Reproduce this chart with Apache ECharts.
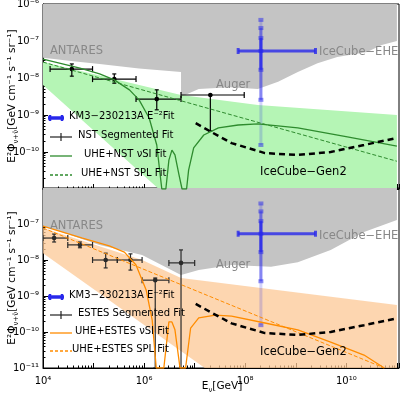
<!DOCTYPE html>
<html><head><meta charset="utf-8">
<script src="https://cdn.jsdelivr.net/npm/echarts@6/dist/echarts.min.js"></script>
<style>html,body{margin:0;background:#fff}#c{width:400px;height:400px}</style>
</head><body><div id="c"></div>
<script>
// all values as log10 exponents: [log10 E, log10 flux]
const greyTop = [[4,-7.45],[4.6,-7.55],[5.12,-7.62],[5.9,-7.74],[6.73,-7.84],[6.73,-8.51],[7.08,-8.3],[7.7,-8.25],[8.25,-8.3],[8.65,-8.1],[9.04,-7.84],[9.43,-7.6],[9.82,-7.43],[10.41,-7.3],[10.7,-7.11],[11,-7.0]];
const greyBot = [[4,-7.05],[5.12,-7.58],[5.96,-7.86],[6.73,-8.42],[7.08,-8.28],[7.73,-8.14],[8.51,-8.19],[9.04,-8.06],[9.69,-7.72],[10.35,-7.22],[11,-6.89]];
const greenUpper = [[4,-7.57],[6.73,-8.46],[8.25,-8.73],[11,-9.0]];
const greenLower = [[4,-8.19],[6.29,-11],[11,-11]];
const orangeUpper = [[4,-7.11],[5.96,-8.0],[6.73,-8.5],[11,-9.25]];
const orangeLower = [[4,-7.81],[7.2,-11],[11,-11]];
const nstSPL = [[4,-7.57],[11,-10.25]];
const nstSI = [[4,-7.49],[4.73,-7.73],[5.12,-7.89],[5.41,-8.05],[5.71,-8.32],[5.9,-8.59],[6.1,-9.08],[6.25,-9.81],[6.35,-11],[6.43,-11],[6.49,-10.22],[6.55,-9.95],[6.61,-10.08],[6.69,-10.62],[6.75,-11],[6.84,-11],[6.88,-10.49],[6.98,-9.89],[7.18,-9.54],[7.47,-9.35],[7.86,-9.27],[8.25,-9.24],[9.04,-9.35],[10.02,-9.59],[11,-9.84]];
const estesSPL = [[4,-7.11],[10.75,-11]];
const estesSI = [[4,-7.06],[4.78,-7.39],[5.31,-7.61],[5.61,-7.78],[5.84,-8.14],[6.04,-8.83],[6.16,-9.67],[6.24,-11],[6.39,-11],[6.49,-9.72],[6.55,-9.72],[6.61,-9.94],[6.71,-11],[6.82,-11],[6.92,-9.89],[7.08,-9.61],[7.41,-9.53],[7.73,-9.56],[8.39,-9.75],[9.04,-9.94],[9.69,-10.28],[10.35,-10.64],[10.75,-11]];
const gen2 = [[7.02,-9.22],[7.33,-9.46],[7.73,-9.76],[8.39,-10.03],[9.04,-10.08],[9.69,-10.0],[10.35,-9.81],[11,-9.62]];
// [x, y, xlo, xhi, ylo, yhi]  (null = no bar)
const nstPts = [[4.57,-7.76,4.14,4.98,-7.95,-7.62],[5.41,-8.03,4.98,5.84,-8.14,-7.89],[6.25,-8.57,5.84,6.73,-8.86,-8.32],[7.31,-8.46,6.73,7.98,-9.43,null]];
const estesPts = [[4.22,-7.39,4.0,4.49,-7.5,-7.28],[4.73,-7.58,4.49,4.98,-7.66,-7.5],[5.24,-8.0,4.98,5.47,-8.22,-7.81],[5.73,-8.0,5.47,5.96,-8.28,-7.83],[6.22,-8.56,5.96,6.49,-11,-8.5],[6.73,-8.08,6.49,7.0,-11,-7.72]];
// KM3 event: centre, x range, y ranges (faint, mid, strong), marker levels
const km3 = {x:8.31, y:-7.27, xlo:7.86, xhi:9.39};
const km3Y = [[-6.43,-9.81,0.2],[-6.65,-8.59,0.45],[-6.92,-7.78,0.8]];
const km3Marks = [-6.43,-6.65,-6.92,-7.27,-7.78,-8.59,-9.81];

const P = v => Math.pow(10, v);
const toVals = a => a.map(d => [P(d[0]), P(d[1])]);

function poly(gi, pts, color) {
  return {type:'custom', xAxisIndex:gi, yAxisIndex:gi, clip:true, data:[[1e5,1e-8]], silent:true,
    renderItem:(p, api) => ({type:'polygon', shape:{points: toVals(pts).map(q => api.coord(q))}, style:{fill:color}})};
}
function band(gi, up, lo, color) { return poly(gi, up.concat(lo.slice().reverse()), color); }
function line(gi, pts, color, w, dash) {
  return {type:'line', xAxisIndex:gi, yAxisIndex:gi, data:toVals(pts), showSymbol:false, silent:true,
    lineStyle:{color:color, width:w, type: dash || 'solid'}};
}
function errs(gi, pts, color) {
  return {type:'custom', xAxisIndex:gi, yAxisIndex:gi, clip:true, data:pts.map((d,i)=>[P(d[0]),P(d[1]),i]),
    renderItem:(p, api) => {
      const d = pts[p.dataIndex];
      const c = api.coord([P(d[0]),P(d[1])]);
      const l = api.coord([P(d[2]),P(d[1])])[0], r = api.coord([P(d[3]),P(d[1])])[0];
      const lo = api.coord([P(d[0]),P(d[4])])[1];
      const hi = d[5] === null ? c[1] : api.coord([P(d[0]),P(d[5])])[1];
      const st = {stroke:color, lineWidth:1.2};
      return {type:'group', children:[
        {type:'line', shape:{x1:l,y1:c[1],x2:r,y2:c[1]}, style:st},
        {type:'line', shape:{x1:l,y1:c[1]-3,x2:l,y2:c[1]+3}, style:st},
        {type:'line', shape:{x1:r,y1:c[1]-3,x2:r,y2:c[1]+3}, style:st},
        {type:'line', shape:{x1:c[0],y1:lo,x2:c[0],y2:hi}, style:st},
        {type:'line', shape:{x1:c[0]-2,y1:lo,x2:c[0]+2,y2:lo}, style:st},
        {type:'line', shape:{x1:c[0]-2,y1:hi,x2:c[0]+2,y2:hi}, style:st},
        {type:'circle', shape:{cx:c[0],cy:c[1],r:2.3}, style:{fill:color}}
      ]};
    }};
}
function km3Series(gi) {
  return {type:'custom', xAxisIndex:gi, yAxisIndex:gi, clip:true, data:[[P(km3.x),P(km3.y)]],
    renderItem:(p, api) => {
      const x = api.coord([P(km3.x),P(km3.y)]);
      const ch = km3Y.map(s => ({type:'line', shape:{x1:x[0],y1:api.coord([1,P(s[0])])[1],x2:x[0],y2:api.coord([1,P(s[1])])[1]},
        style:{stroke:'rgba(40,40,235,'+s[2]+')', lineWidth:3}}));
      km3Marks.forEach(m => { const y = api.coord([1,P(m)])[1];
        ch.push({type:'rect', shape:{x:x[0]-2.5,y:y-2,width:5,height:4}, style:{fill:'rgba(40,40,235,0.5)'}}); });
      const l = api.coord([P(km3.xlo),1])[0], r = api.coord([P(km3.xhi),1])[0];
      ch.push({type:'line', shape:{x1:l,y1:x[1],x2:r,y2:x[1]}, style:{stroke:'rgba(40,40,235,0.8)', lineWidth:3}});
      ch.push({type:'rect', shape:{x:l-1.5,y:x[1]-3,width:3,height:6}, style:{fill:'rgba(40,40,235,0.8)'}});
      ch.push({type:'rect', shape:{x:r-1.5,y:x[1]-3,width:3,height:6}, style:{fill:'rgba(40,40,235,0.8)'}});
      return {type:'group', children:ch};
    }};
}

const sup = {'-':'⁻','0':'⁰','1':'¹','2':'²','3':'³','4':'⁴','5':'⁵','6':'⁶','7':'⁷','8':'⁸','9':'⁹'};
const pow = v => '10' + String(Math.round(Math.log10(v))).split('').map(c => sup[c]).join('');
const FONT = 'DejaVu Sans';

function xAx(gi, show) {
  return {type:'log', gridIndex:gi, min:1e4, max:1.1e11, logBase:10,
    axisLine:{lineStyle:{color:'#000'}}, axisTick:{inside:true, length:5, lineStyle:{color:'#000'}},
    minorTick:{show:true, splitNumber:9, length:2.5, lineStyle:{color:'#000'}},
    splitLine:{show:false},
    axisLabel:{show:show, color:'#000', fontSize:10, fontFamily:FONT,
      formatter: v => { const e = Math.round(Math.log10(v)); return e % 2 === 0 && e <= 10 ? pow(v) : ''; }}};
}
function yAx(gi, hideMin, hideMax) {
  return {type:'log', gridIndex:gi, min:1e-11, max:1e-6,
    axisLine:{lineStyle:{color:'#000'}}, axisTick:{inside:true, length:5, lineStyle:{color:'#000'}},
    minorTick:{show:true, splitNumber:9, length:2.5, lineStyle:{color:'#000'}},
    splitLine:{show:false},
    axisLabel:{color:'#000', fontSize:10, fontFamily:FONT, margin:4,
      formatter: v => { const e = Math.round(Math.log10(v)); if ((hideMin && e === -11) || (hideMax && e === -6)) return ''; return pow(v); }}};
}

const txt = (x, y, s, c, sz) => ({type:'text', left:x, top:y, style:{text:s, fill:c, fontSize:sz || 10.5, fontFamily:FONT}, z:100});
const seg = (x1, y1, x2, y2, c, w, dash) => ({type:'line', shape:{x1,y1,x2,y2}, style:{stroke:c, lineWidth:w, lineDash:dash}, z:100});
const richSub = {a:{fontSize:10.5, fontFamily:FONT, fill:'#000', verticalAlign:'bottom'},
                 s:{fontSize:7, fontFamily:FONT, fill:'#000', verticalAlign:'bottom', padding:[0,0,-2,0]}};
const yTitle = cy => ({type:'text', x:12, y:cy, rotation:Math.PI/2, z:100,
  style:{text:'{a|E²Φ}{s|ν+ν̄}{a|[GeV cm⁻¹ s⁻¹ sr⁻¹]}', rich:richSub, align:'center', verticalAlign:'middle'}});
const xTitle = {type:'text', x:222, y:386, z:100,
  style:{text:'{a|E}{s|ν}{a|[GeV]}', rich:richSub, align:'center', verticalAlign:'middle'}};
function legend(y0, dy, name, col, lab) {
  const g = [];
  g.push(seg(48,y0,64,y0,'#2828eb',3.5)); g.push(seg(50,y0-3,50,y0+3,'#2828eb',2.5)); g.push(seg(62,y0-3,62,y0+3,'#2828eb',2.5));
  g.push(txt(69,y0-7,'KM3−230213A E⁻²Fit','#000',10));
  g.push(seg(50,y0+dy,72,y0+dy,'#222',1.2)); g.push(seg(61,y0+dy-4,61,y0+dy+4,'#222',1.2));
  g.push(txt(78,y0+dy-7,name+' Segmented Fit','#000',10));
  g.push(seg(50,y0+2*dy,72,y0+2*dy,col,1.3));
  g.push(txt(lab,y0+2*dy-7,'UHE+'+name+' νSI Fit','#000',10));
  g.push(seg(50,y0+3*dy,72,y0+3*dy,col,1.3,[3,2]));
  g.push(txt(lab-3,y0+3*dy-7,'UHE+'+name+' SPL Fit','#000',10));
  return g;
}

const chart = echarts.init(document.getElementById('c'));
chart.setOption({
  animation:false,
  grid:[{left:43, right:1, top:4, height:185, show:true, borderColor:'#000', borderWidth:1, outerBoundsMode:'none', containLabel:false},
        {left:43, right:1, top:188, height:180, show:true, borderColor:'#000', borderWidth:1, outerBoundsMode:'none', containLabel:false}],
  xAxis:[xAx(0,false), xAx(1,true)],
  yAxis:[yAx(0,true,false), yAx(1,false,true)],
  series:[
    poly(0, greyTop.concat([[11,-6],[4,-6]]), '#c4c4c4'),
    band(0, greenUpper, greenLower, '#b5f5b5'),
    line(0, nstSPL, '#2e8b2e', 1, 'dashed'),
    line(0, nstSI, '#2e8b2e', 1.3),
    line(0, gen2, '#000', 2.5, [6,4]),
    km3Series(0),
    errs(0, nstPts, '#000'),
    poly(1, greyBot.concat([[11,-6],[4,-6]]), '#c4c4c4'),
    band(1, orangeUpper, orangeLower, 'rgba(252,200,150,0.75)'),
    line(1, estesSPL, '#ff8c00', 1, 'dashed'),
    line(1, estesSI, '#ff8c00', 1.3),
    line(1, gen2, '#000', 2.5, [6,4]),
    km3Series(1),
    errs(1, estesPts, '#2a2a2a')
  ],
  graphic:[
    yTitle(96), yTitle(278), xTitle,
    txt(50,45,'ANTARES','#888',11.5), txt(319,46,'IceCube−EHE','#888',11.5),
    txt(216,79,'Auger','#888',11.5), txt(260,166,'IceCube−Gen2','#000',11.5),
    txt(50,220,'ANTARES','#888',11.5), txt(319,230,'IceCube−EHE','#888',11.5),
    txt(216,259,'Auger','#888',11.5), txt(260,346,'IceCube−Gen2','#000',11.5)
  ].concat(legend(118,19,'NST','#2e8b2e',84), legend(297,18,'ESTES','#ff8c00',75))
});
</script>
</body></html>
